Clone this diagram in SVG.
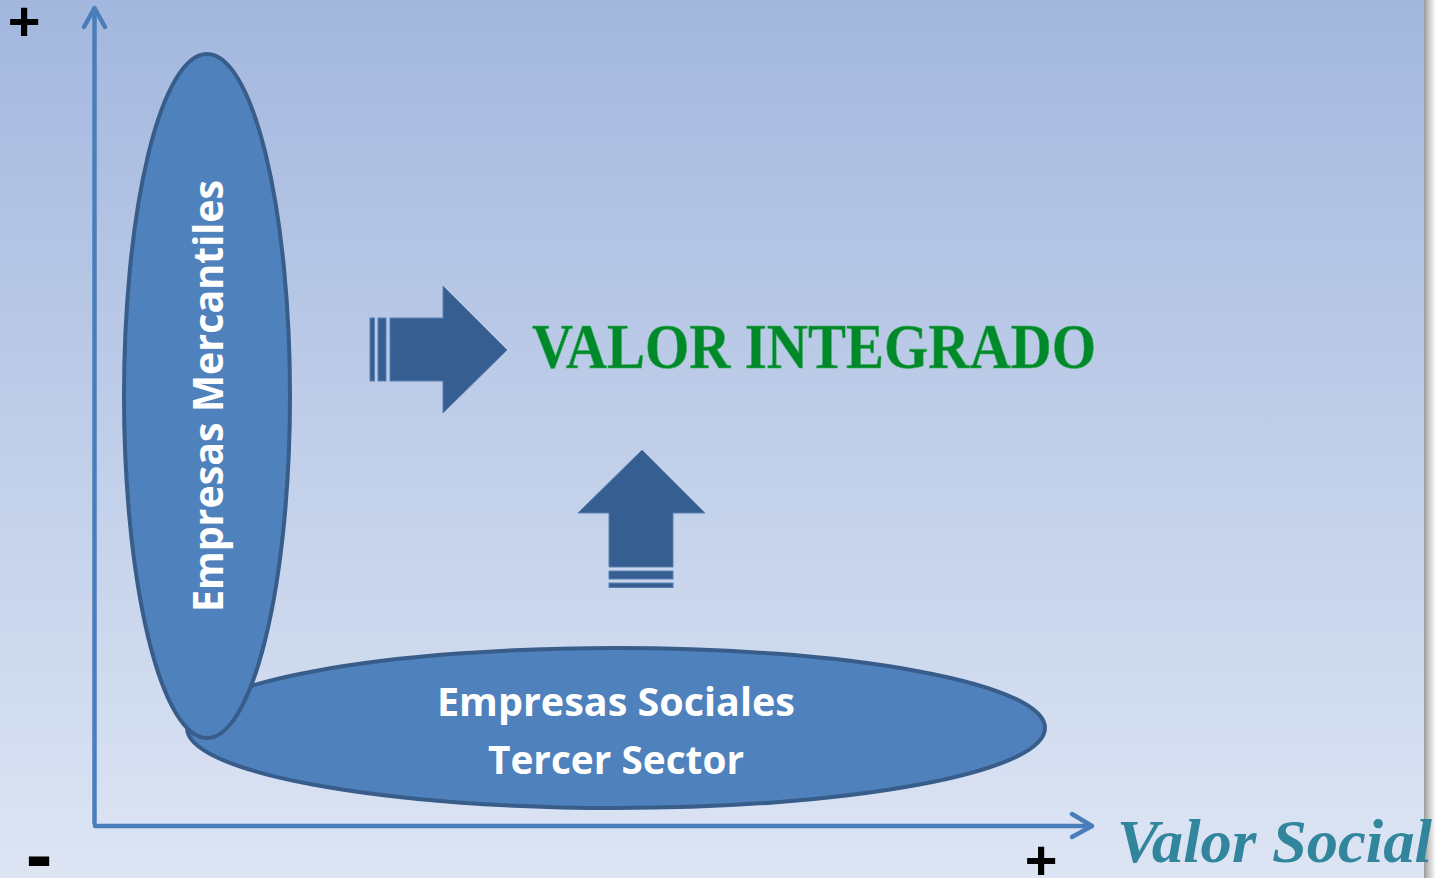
<svg xmlns="http://www.w3.org/2000/svg" width="1441" height="878" viewBox="0 0 1441 878">
  <defs>
    <linearGradient id="bg" x1="0" y1="0" x2="0" y2="1">
      <stop offset="0" stop-color="#A3B7DE"/>
      <stop offset="1" stop-color="#DDE5F4"/>
    </linearGradient>
    <linearGradient id="shadow" x1="0" y1="0" x2="1" y2="0">
      <stop offset="0" stop-color="#9A9A9A"/>
      <stop offset="0.4" stop-color="#C8C8C8"/>
      <stop offset="1" stop-color="#FFFFFF"/>
    </linearGradient>
    <style>
      .axis{stroke:#4A7EBB;stroke-width:4.5;fill:none;stroke-linecap:round;stroke-linejoin:round}
      .ell{fill:#4F81BD;stroke:#385D8A;stroke-width:4}
      .blk{fill:#365E90;stroke:#5A80B2;stroke-width:1}
      .lbl{font-family:"Open Sans","DejaVu Sans",sans-serif;font-weight:bold;fill:#FFFFFF}
      .sign{font-family:"Liberation Sans",Arial,sans-serif;font-weight:bold;fill:#000000}
    </style>
  </defs>
  <rect x="0" y="0" width="1441" height="878" fill="#FFFFFF"/>
  <rect x="1424" y="0" width="12" height="878" fill="url(#shadow)"/>
  <rect x="0" y="0" width="1424" height="878" fill="url(#bg)"/>

  <g id="connectors">
    <line class="axis" x1="94.5" y1="823" x2="94.5" y2="9"/>
    <polyline class="axis" points="84,27 94.5,8 105,27"/>
    <line class="axis" x1="95" y1="826" x2="1090" y2="826"/>
    <polyline class="axis" points="1072,814 1092,826 1072,837"/>
  </g>

  <g id="node-sociales">
    <ellipse class="ell" cx="616" cy="728" rx="429" ry="80"/>
    <text class="lbl" x="616" y="716" font-size="40" text-anchor="middle" textLength="358" lengthAdjust="spacingAndGlyphs">Empresas Sociales</text>
    <text class="lbl" x="616" y="774" font-size="40" text-anchor="middle" textLength="256" lengthAdjust="spacingAndGlyphs">Tercer Sector</text>
  </g>

  <g id="node-mercantiles">
    <ellipse class="ell" cx="207" cy="396" rx="83" ry="342"/>
    <text class="lbl" transform="translate(223,612) rotate(-90)" x="0" y="0" font-size="41" textLength="432" lengthAdjust="spacingAndGlyphs">Empresas Mercantiles</text>
  </g>

  <g id="arrow-right">
    <rect class="blk" x="370" y="318" width="4.5" height="63"/>
    <rect class="blk" x="378" y="318" width="8" height="63"/>
    <polygon class="blk" points="390,318 443,318 443,286 507,350 443,413 443,381 390,381"/>
  </g>

  <g id="arrow-up">
    <polygon class="blk" points="642,450 705,513 673,513 673,567 609,567 609,513 578,513"/>
    <rect class="blk" x="609" y="571" width="64" height="8"/>
    <rect class="blk" x="609" y="583" width="64" height="4.5"/>
  </g>

  <g id="node-valor-integrado">
    <text x="532" y="368" font-family="Liberation Serif,'Times New Roman',serif" font-weight="bold" font-size="64" fill="#00892B" stroke="#3FAF5E" stroke-width="0.6" textLength="564" lengthAdjust="spacingAndGlyphs">VALOR INTEGRADO</text>
  </g>

  <g id="node-valor-social">
    <text x="1117" y="862" font-family="Liberation Serif,'Times New Roman',serif" font-weight="bold" font-style="italic" font-size="62" fill="#31859C" textLength="315" lengthAdjust="spacingAndGlyphs">Valor Social</text>
  </g>

  <g id="signs">
    <text class="sign" x="24" y="40" font-size="56" text-anchor="middle">+</text>
    <text class="sign" x="1041" y="879" font-size="56" text-anchor="middle">+</text>
    <text class="sign" x="39" y="882" font-size="80" text-anchor="middle">-</text>
  </g>
</svg>
